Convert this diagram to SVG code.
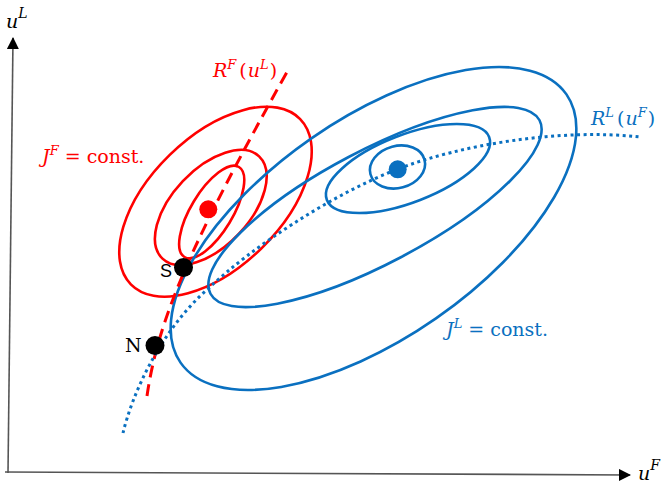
<svg xmlns="http://www.w3.org/2000/svg" width="666" height="491" viewBox="0 0 666 491">
<style>
.red{fill:none;stroke:#ff0000;stroke-width:2.6}
.blue{fill:none;stroke:#0a70c0;stroke-width:2.6}
.axis{stroke:#555;stroke-width:1.6;fill:none}
.math{font-family:"DejaVu Serif","Liberation Serif",serif;font-size:19px}
.lab{font-family:"Liberation Sans",sans-serif;font-size:18px;fill:#000}
</style>
<defs>
<marker id="arr" viewBox="0 0 12 12" refX="11" refY="6" markerWidth="12" markerHeight="12" markerUnits="userSpaceOnUse" orient="auto">
<path d="M0,0 L12,6 L0,12 Z" fill="#000"/>
</marker>
</defs>
<g id="axes">
<path class="axis" d="M8,473 L13,38" marker-end="url(#arr)"/>
<path class="axis" d="M5,472 L630,475" marker-end="url(#arr)"/>
<text class="math" x="6" y="28" font-style="italic" font-size="22">u<tspan font-size="14" dy="-10">L</tspan></text>
<text class="math" x="638" y="480" font-style="italic" font-size="22">u<tspan font-size="14" dy="-10">F</tspan></text>
</g>
<g id="red-contours">
<ellipse class="red" cx="211.7" cy="212" rx="52.6" ry="20.8" transform="rotate(-58.8 211.7 212)"/>
<ellipse class="red" cx="210.8" cy="207.5" rx="70.3" ry="38.5" transform="rotate(-46.6 210.8 207.5)"/>
<ellipse class="red" cx="215.5" cy="201.7" rx="118.3" ry="65.5" transform="rotate(-44.3 215.5 201.7)"/>
</g>
<g id="blue-contours">
<ellipse class="blue" cx="397.5" cy="167" rx="28" ry="21" transform="rotate(-15 397.5 167)"/>
<ellipse class="blue" cx="408" cy="168.5" rx="87" ry="33.7" transform="rotate(-21.2 408 168.5)"/>
<ellipse class="blue" cx="375" cy="207" rx="186" ry="56.5" transform="rotate(-27.8 375 207)"/>
<ellipse class="blue" cx="373.5" cy="228.5" rx="235" ry="109.5" transform="rotate(-34.8 373.5 228.5)"/>
</g>
<g id="connectors">
<path d="M147,396 C158,320 190,245 287,72" fill="none" stroke="#ff0000" stroke-width="3" stroke-dasharray="12 7"/>
<path d="M123,433 C132,395 160,330 210,287 C250,249 330,195 398,169 C460,145 560,128 640,137" fill="none" stroke="#0a70c0" stroke-width="3" stroke-dasharray="3 3.5"/>
</g>
<g id="labels">
<text class="math" x="213" y="77" fill="#ff0000" font-style="italic">R<tspan font-size="13" dy="-8">F</tspan><tspan dy="8" dx="3" font-style="normal">(</tspan><tspan dx="1">u</tspan><tspan font-size="13" dy="-8">L</tspan><tspan dy="8" dx="1" font-style="normal">)</tspan></text>
<text class="math" x="42" y="163" fill="#ff0000"><tspan font-style="italic">J</tspan><tspan font-size="13" dy="-8" font-style="italic">F</tspan><tspan dy="8"> = const.</tspan></text>
<text class="math" x="591" y="125" fill="#0a70c0" font-style="italic">R<tspan font-size="13" dy="-8">L</tspan><tspan dy="8" dx="3" font-style="normal">(</tspan><tspan dx="1">u</tspan><tspan font-size="13" dy="-8">F</tspan><tspan dy="8" dx="1" font-style="normal">)</tspan></text>
<text class="math" x="446" y="336" fill="#0a70c0"><tspan font-style="italic">J</tspan><tspan font-size="13" dy="-8" font-style="italic">L</tspan><tspan dy="8"> = const.</tspan></text>
</g>
<g id="red-optimum"><circle cx="208.3" cy="209.3" r="9" fill="#ff0000"/></g>
<g id="blue-optimum"><circle cx="397.7" cy="169.3" r="9" fill="#0a70c0"/></g>
<g id="S"><circle cx="183.5" cy="267.5" r="9.5" fill="#000"/><text class="lab" x="160" y="277">S</text></g>
<g id="N"><circle cx="155" cy="345.5" r="9.5" fill="#000"/><text class="math" x="125" y="352" fill="#000" font-family="Liberation Serif" font-size="19">N</text></g>
</svg>
